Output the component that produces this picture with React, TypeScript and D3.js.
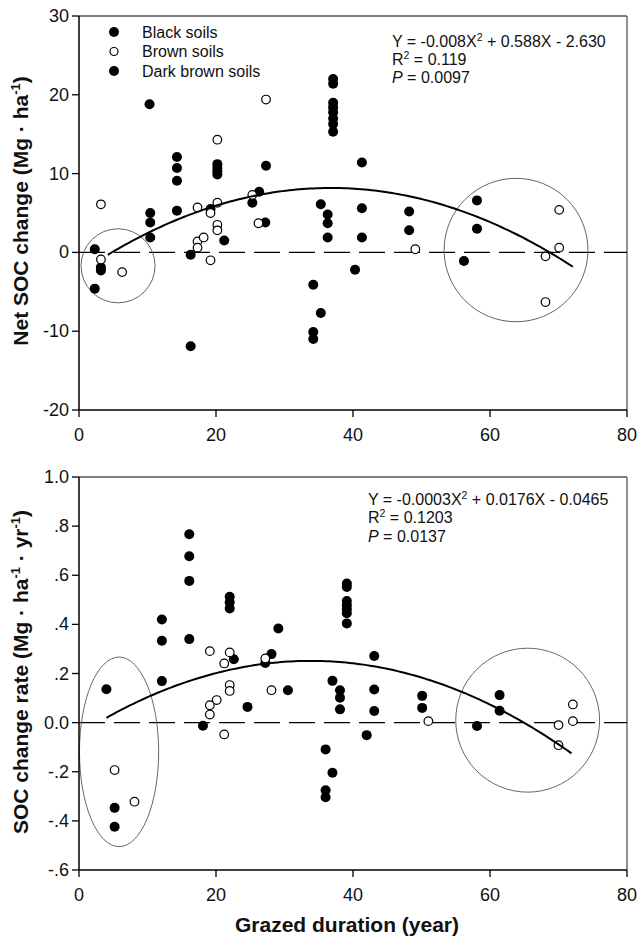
import React from "react";
import * as d3 from "d3";

// ---------- data ----------
const xTicks = [0, 20, 40, 60, 80];
const topYTicks = [-20, -10, 0, 10, 20, 30];
const topYTickLabels = ["-20", "-10", "0", "10", "20", "30"];
const botYTicks = [-0.6, -0.4, -0.2, 0, 0.2, 0.4, 0.6, 0.8, 1.0];
const botYTickLabels = ["-.6", "-.4", "-.2", "0.0", ".2", ".4", ".6", ".8", "1.0"];

// Black + dark brown soils (filled) — net SOC change
const topFilled: [number, number][] = [
  [10.3, 18.8], [14.3, 12.1], [14.3, 10.7], [14.3, 9.1], [20.2, 11.2], [20.2, 10.7], [20.2, 10.3], [20.2, 9.9],
  [27.3, 11.0], [26.3, 7.7], [10.4, 5.0], [10.4, 3.8], [10.4, 1.9], [14.3, 5.3], [19.2, 5.5], [21.2, 1.5],
  [16.3, -0.3], [16.3, -11.9], [25.3, 6.3], [27.2, 3.8], [2.3, 0.4], [3.2, -1.9], [3.2, -2.3], [2.3, -4.6],
  [35.3, 6.1], [36.3, 4.8], [36.3, 3.7], [36.3, 1.9], [34.2, -4.1], [35.3, -7.7], [34.2, -10.1], [34.2, -11.0],
  [41.3, 5.6], [41.3, 1.9], [40.3, -2.2], [48.2, 5.2], [48.2, 2.8], [58.1, 6.6], [58.1, 3.0], [56.2, -1.1],
  [37.1, 22.0], [37.1, 21.4], [37.1, 19.0], [37.1, 18.4], [37.1, 17.8], [37.1, 17.0], [37.1, 16.3], [37.1, 15.3],
  [41.3, 11.4],
];
// Brown soils (open) — net SOC change
const topOpen: [number, number][] = [
  [27.3, 19.4], [20.2, 14.3], [25.3, 7.3], [3.2, 6.1], [17.3, 5.7], [19.2, 5.0], [20.2, 6.3], [20.2, 3.5],
  [20.2, 2.8], [17.3, 1.4], [17.3, 0.6], [18.2, 1.9], [19.2, -1.0], [26.2, 3.7], [3.2, -0.9], [6.3, -2.5],
  [49.1, 0.4], [70.1, 5.4], [70.1, 0.6], [68.1, -0.5], [68.1, -6.3],
];
// filled — SOC change rate
const botFilled: [number, number][] = [
  [16.1, 0.767], [16.1, 0.677], [16.1, 0.577], [16.1, 0.34], [12.1, 0.42], [12.1, 0.333], [22.0, 0.512],
  [22.0, 0.49], [22.0, 0.465], [29.1, 0.383], [22.6, 0.258], [28.1, 0.279], [27.2, 0.243], [4.0, 0.136],
  [12.1, 0.169], [18.1, -0.013], [24.6, 0.064], [30.5, 0.132], [5.2, -0.347], [5.2, -0.424], [43.1, 0.271],
  [37.0, 0.17], [38.1, 0.132], [38.1, 0.101], [38.1, 0.054], [43.1, 0.135], [43.1, 0.047], [42.0, -0.051],
  [36.0, -0.109], [37.0, -0.204], [36.0, -0.275], [36.0, -0.304], [50.1, 0.109], [50.1, 0.06], [58.1, -0.014],
  [61.4, 0.112], [61.4, 0.048], [39.1, 0.566], [39.1, 0.552], [39.1, 0.495], [39.1, 0.478], [39.1, 0.462],
  [39.1, 0.445], [39.1, 0.404],
];
// open — SOC change rate
const botOpen: [number, number][] = [
  [19.1, 0.291], [22.0, 0.286], [21.2, 0.241], [27.2, 0.261], [22.0, 0.153], [22.0, 0.129], [20.1, 0.092],
  [19.1, 0.071], [19.1, 0.033], [21.2, -0.048], [28.1, 0.132], [5.2, -0.193], [8.1, -0.322], [51.0, 0.006],
  [72.1, 0.074], [72.1, 0.006], [70.0, -0.01], [70.0, -0.092],
];

// quadratic fits [a, b, c] and x range
const topFit = [-0.008, 0.588, -2.63];
const topFitRange = [4.2, 72.1];
const botFit = [-0.00026, 0.0176, -0.0465];
const botFitRange = [4.0, 71.9];

// highlight ellipses [cx, cy, rx, ry] in data units
const topEllipses = [[5.7, -1.7, 5.4, 4.7], [63.8, 0.3, 10.5, 9.1]];
const botEllipses = [[5.85, -0.119, 5.78, 0.386], [65.5, 0.01, 10.5, 0.293]];

const legendLabels = ["Black soils", "Brown soils", "Dark brown soils"];
const legendFilled = [true, false, true];

const topEq = ["Y = -0.008X", " + 0.588X - 2.630", "0.119", "0.0097"];
const botEq = ["Y = -0.0003X", " + 0.0176X - 0.0465", "0.1203", "0.0137"];

// ---------- layout ----------
const W = 637, H = 939;
const left = 79, right = 627;
const FONT = "Arial, 'Liberation Sans', Helvetica, sans-serif";

type PanelProps = {
  top: number; bottom: number; domain: [number, number];
  yTicks: number[]; yLabels: string[];
  filled: [number, number][]; open: [number, number][];
  fit: number[]; fitRange: number[]; ellipses: number[][];
  eq: string[]; eqX: number; eqY: number; ylabel: React.ReactNode; ylabelY: number;
  legend?: boolean;
};

function Panel(p: PanelProps) {
  const x = d3.scaleLinear().domain([0, 80]).range([left, right]);
  const y = d3.scaleLinear().domain(p.domain).range([p.bottom, p.top]);
  const [a, b, c] = p.fit;
  const xs = d3.range(p.fitRange[0], p.fitRange[1] + 0.001, 0.5);
  if (xs[xs.length - 1] < p.fitRange[1]) xs.push(p.fitRange[1]);
  const line = d3.line<number>().x((v) => x(v)).y((v) => y(a * v * v + b * v + c));
  return (
    <g>
      {/* frame top/right */}
      <line x1={left} x2={right} y1={p.top} y2={p.top} stroke="#555" strokeWidth={1.3} />
      <line x1={right} x2={right} y1={p.top} y2={p.bottom} stroke="#555" strokeWidth={1.3} />
      {/* zero dashed line */}
      <line x1={left} x2={right} y1={y(0)} y2={y(0)} stroke="#000" strokeWidth={1.2} strokeDasharray="26,9" />
      {/* ellipses */}
      {p.ellipses.map((e, i) => (
        <ellipse key={i} cx={x(e[0])} cy={y(e[1])} rx={x(e[0] + e[2]) - x(e[0])} ry={y(e[1] - e[3]) - y(e[1])}
          fill="none" stroke="#666" strokeWidth={1} />
      ))}
      {/* points */}
      {p.filled.map((d, i) => (
        <circle key={"f" + i} cx={x(d[0])} cy={y(d[1])} r={5} fill="#000" />
      ))}
      {p.open.map((d, i) => (
        <circle key={"o" + i} cx={x(d[0])} cy={y(d[1])} r={4.3} fill="#fff" stroke="#000" strokeWidth={1.2} />
      ))}
      {/* fit */}
      <path d={line(xs) || ""} fill="none" stroke="#000" strokeWidth={2} />
      {/* axes */}
      <line x1={left} x2={left} y1={p.top} y2={p.bottom} stroke="#000" strokeWidth={1.5} />
      <line x1={left} x2={right} y1={p.bottom} y2={p.bottom} stroke="#000" strokeWidth={1.5} />
      {p.yTicks.map((t, i) => (
        <g key={"yt" + i}>
          <line x1={left - 7} x2={left} y1={y(t)} y2={y(t)} stroke="#000" strokeWidth={1.3} />
          <text x={left - 10} y={y(t) + 6} textAnchor="end" fontSize={18} fontFamily={FONT} fill="#111">
            {p.yLabels[i]}
          </text>
        </g>
      ))}
      {xTicks.map((t, i) => (
        <g key={"xt" + i}>
          <line x1={x(t)} x2={x(t)} y1={p.bottom} y2={p.bottom + 7} stroke="#000" strokeWidth={1.3} />
          <text x={x(t)} y={p.bottom + 31} textAnchor="middle" fontSize={18} fontFamily={FONT} fill="#111">
            {t}
          </text>
        </g>
      ))}
      {/* equation */}
      <g fontFamily={FONT} fontSize={16} fill="#111">
        <text x={p.eqX} y={p.eqY}>
          {p.eq[0]}<tspan dy={-6} fontSize={10.5}>2</tspan><tspan dy={6}>{p.eq[1]}</tspan>
        </text>
        <text x={p.eqX} y={p.eqY + 18.3}>
          R<tspan dy={-6} fontSize={10.5}>2</tspan><tspan dy={6}>{" = " + p.eq[2]}</tspan>
        </text>
        <text x={p.eqX} y={p.eqY + 36.6}>
          <tspan fontStyle="italic">P</tspan>{" = " + p.eq[3]}
        </text>
      </g>
      {/* y label */}
      <text transform={`translate(28,${p.ylabelY}) rotate(-90)`} textAnchor="middle" fontSize={21}
        fontWeight="bold" fontFamily={FONT} fill="#111">
        {p.ylabel}
      </text>
      {p.legend && (
        <g fontFamily={FONT} fontSize={16} fill="#111">
          {legendLabels.map((l, i) => (
            <g key={l}>
              {legendFilled[i] ? (
                <circle cx={114} cy={32 + i * 19.5} r={5} fill="#000" />
              ) : (
                <circle cx={114} cy={32 + i * 19.5} r={4} fill="#fff" stroke="#000" strokeWidth={1.2} />
              )}
              <text x={142} y={37.5 + i * 19.5}>{l}</text>
            </g>
          ))}
        </g>
      )}
    </g>
  );
}

export default function App() {
  return (
    <svg width={W} height={H} style={{ position: "absolute", left: 0, top: 0, background: "#fff" }}>
      <rect width={W} height={H} fill="#fff" />
      <Panel top={16} bottom={410} domain={[-20, 30]} yTicks={topYTicks} yLabels={topYTickLabels}
        filled={topFilled} open={topOpen} fit={topFit} fitRange={topFitRange} ellipses={topEllipses}
        eq={topEq} eqX={392} eqY={46.5} ylabelY={211} legend
        ylabel={<>Net SOC change (Mg · ha<tspan dy={-8} fontSize={13}>-1</tspan><tspan dy={8}>)</tspan></>} />
      <Panel top={477} bottom={870} domain={[-0.6, 1.0]} yTicks={botYTicks} yLabels={botYTickLabels}
        filled={botFilled} open={botOpen} fit={botFit} fitRange={botFitRange} ellipses={botEllipses}
        eq={botEq} eqX={368} eqY={505} ylabelY={672}
        ylabel={<>SOC change rate (Mg · ha<tspan dy={-8} fontSize={13}>-1</tspan><tspan dy={8}>{" · yr"}</tspan><tspan dy={-8} fontSize={13}>-1</tspan><tspan dy={8}>)</tspan></>} />
      <text x={347} y={932} textAnchor="middle" fontSize={21} fontWeight="bold" fontFamily={FONT} fill="#111">
        Grazed duration (year)
      </text>
    </svg>
  );
}
